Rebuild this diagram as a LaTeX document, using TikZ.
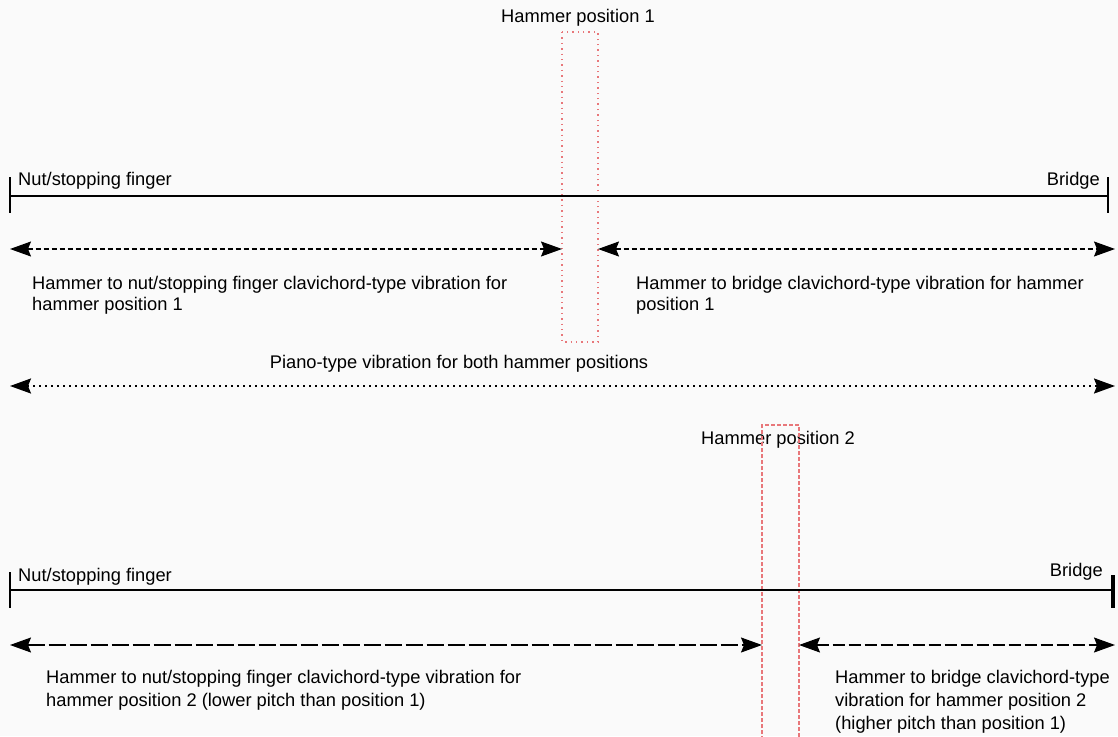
\documentclass[tikz,border=0pt]{standalone}
\usepackage{fontspec}
\setmainfont{Liberation Sans}
\usetikzlibrary{arrows.meta}
\definecolor{bg}{HTML}{FAFAFA}
\definecolor{hred}{HTML}{E8777A}
\tikzset{
  lbl/.style={inner sep=0pt, font=\fontsize{18.3}{21}\selectfont, align=left},
  lblb/.style={inner sep=0pt, font=\fontsize{18.3}{23}\selectfont, align=left},
  stringline/.style={line width=1.6pt, black},
  tick/.style={line width=2.2pt, black},
  both/.style={{Stealth[length=21pt,width=15pt,inset=3pt]}-{Stealth[length=21pt,width=15pt,inset=3pt]}},
  shortdash/.style={line width=1.4pt, dash pattern=on 5pt off 3pt},
  meddash/.style={line width=1.4pt, dash pattern=on 12pt off 4pt},
  dots/.style={line width=1.9pt, dash pattern=on 1.9pt off 4.1pt},
  longdash/.style={line width=1.4pt, dash pattern=on 17pt off 4pt},
  hbox1/.style={draw=hred, line width=1.2pt, dash pattern=on 1.4pt off 4pt},
  hbox2/.style={draw=hred, line width=1.2pt, dash pattern=on 4pt off 2pt},
}
\begin{document}
\begin{tikzpicture}[x=1pt,y=-1pt]
\fill[bg] (0,0) rectangle (1118,736);
\useasboundingbox (0,0) rectangle (1118,736);

% ---- top: hammer position 1 ----
\node[lbl, anchor=base] (hp1) at (578,22) {Hammer position 1};
\draw[hbox1] (562,32) rectangle (598,342);
\coordinate (h1l) at (562,249);
\coordinate (h1r) at (598,249);

\coordinate (n1) at (10,196);
\coordinate (b1) at (1108,196);
\draw[stringline] (n1) -- (b1);
\draw[tick] (10,177) -- (10,213);
\draw[tick] (1108,177) -- (1108,213);
\node[lbl, anchor=base west] (nut1) at (18,185) {Nut/stopping finger};
\node[lbl, anchor=base east] (br1) at (1100,185) {Bridge};

\coordinate (a1s) at (10,249);
\coordinate (a1e) at (1115,249);
\draw[shortdash, both] (a1s) -- (h1l);
\draw[shortdash, both] (h1r) -- (a1e);

\node[lbl, anchor=north west] (t1l) at (32,276) {Hammer to nut/stopping finger clavichord-type vibration for\\hammer position 1};
\node[lbl, anchor=north west] (t1r) at (636,276) {Hammer to bridge clavichord-type vibration for hammer\\position 1};

% ---- piano-type ----
\node[lbl, anchor=base] (piano) at (459,368) {Piano-type vibration for both hammer positions};
\coordinate (ps) at (10,386);
\coordinate (pe) at (1115,386);
\draw[dots, both] (ps) -- (pe);

% ---- bottom: hammer position 2 ----
\node[lbl, anchor=base] (hp2) at (778,444) {Hammer position 2};
\draw[hbox2] (762,740) -- (762,425) -- (799,425) -- (799,740);
\coordinate (h2l) at (762,645);
\coordinate (h2r) at (799,645);

\coordinate (n2) at (10,590);
\coordinate (b2) at (1112,590);
\draw[stringline] (n2) -- (b2);
\draw[tick] (10,572) -- (10,608);
\draw[line width=4pt] (1113,575) -- (1113,608);
\node[lbl, anchor=base west] (nut2) at (18,581) {Nut/stopping finger};
\node[lbl, anchor=base east] (br2) at (1103,576) {Bridge};

\coordinate (a2s) at (10,645);
\coordinate (a2e) at (1115,645);
\draw[longdash, both] (a2s) -- (h2l);
\draw[meddash, both] (h2r) -- (a2e);

\node[lblb, anchor=north west] (t2l) at (46,670) {Hammer to nut/stopping finger clavichord-type vibration for\\hammer position 2 (lower pitch than position 1)};
\node[lblb, anchor=north west] (t2r) at (835,670) {Hammer to bridge clavichord-type\\vibration for hammer position 2\\(higher pitch than position 1)};
\end{tikzpicture}
\end{document}
